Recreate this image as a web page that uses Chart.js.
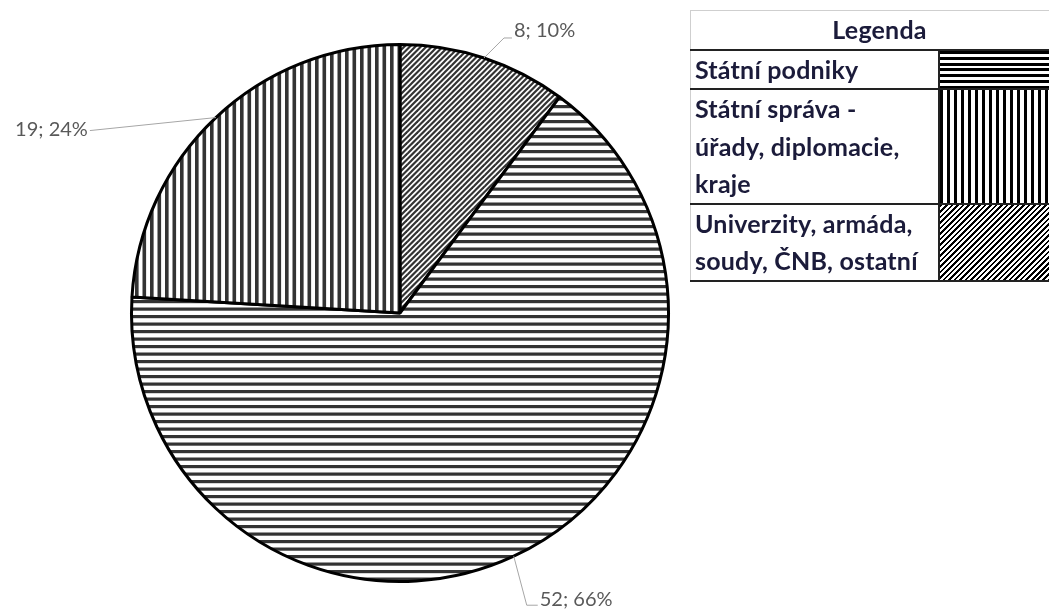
<!DOCTYPE html>
<html lang="cs">
<head>
    <meta charset="UTF-8">
    <title>Legenda - podíly</title>
    <script src="https://cdn.jsdelivr.net/npm/chart.js@4.4.1/dist/chart.umd.min.js"></script>
    <style>
        body { margin: 0; background: #fff; font-family: Lato, sans-serif; }
        #wrap { position: relative; width: 1049px; height: 613px; overflow: hidden; }
        #pie { position: absolute; left: 0; top: 0; }
        #legend {
            position: absolute; left: 690px; top: 10px; width: 374px;
            border-collapse: collapse; color: #1b1b3a;
            font-weight: bold; font-size: 25px; letter-spacing: 0.2px;
        }
        #legend th, #legend td { padding: 0 0 0 4px; line-height: 37.5px; text-align: left; white-space: nowrap; }
        #legend th { text-align: center; height: 37px; border-top: 1px solid #cfcfcf; border-left: 1px solid #cfcfcf;
            border-bottom: 2px solid #222; }
        #legend td.name { width: 243px; border-left: 1px solid #cfcfcf; border-bottom: 2px solid #222; }
        #legend td.swatch { border-left: 2px solid #222; border-bottom: 2px solid #222; padding: 0; }
    </style>
</head>
<body>
<div id="wrap">
    <canvas id="pie" width="1049" height="613"></canvas>
    <table id="legend"></table>
</div>
<script>
    // legend order
    const categories = [
        ['Státní podniky'],
        ['Státní správa -', 'úřady, diplomacie,', 'kraje'],
        ['Univerzity, armáda,', 'soudy, ČNB, ostatní']
    ];
    const values = [52, 19, 8];
    const percents = ['66%', '24%', '10%'];
    // order of slices in the pie, clockwise from 12 o'clock
    const pieOrder = [2, 0, 1];
    const hatches = ['horizontal', 'vertical', 'diagonal'];

    function makePattern(kind) {
        const c = document.createElement('canvas');
        const g = c.getContext('2d');
        if (kind === 'horizontal') {
            c.width = 15; c.height = 15;
            g.fillStyle = '#fff'; g.fillRect(0, 0, 15, 15);
            g.fillStyle = '#333';
            g.fillRect(0, 0, 15, 3.2);
            g.fillRect(0, 7.5, 15, 3.2);
        } else if (kind === 'vertical') {
            c.width = 15; c.height = 15;
            g.fillStyle = '#fff'; g.fillRect(0, 0, 15, 15);
            g.fillStyle = '#333';
            g.fillRect(0, 0, 3.6, 15);
            g.fillRect(7.5, 0, 3.6, 15);
        } else {
            c.width = 11; c.height = 11;
            g.fillStyle = '#fff'; g.fillRect(0, 0, 11, 11);
            g.strokeStyle = '#333';
            g.lineWidth = 2.2;
            for (let k = -1; k <= 5; k++) {
                const d = k * 5.5;
                g.beginPath();
                g.moveTo(d + 2, -2);
                g.lineTo(-2, d + 2);
                g.stroke();
            }
        }
        return g.createPattern(c, 'repeat');
    }

    const legendCss = {
        horizontal: 'repeating-linear-gradient(to bottom, #000 0 3px, #fff 3px 5.8px)',
        vertical: 'repeating-linear-gradient(to right, #000 0 3.5px, #fff 3.5px 7px)',
        diagonal: 'repeating-linear-gradient(135deg, #000 0 1.8px, #fff 1.8px 3.9px)'
    };

    // legend table
    const table = document.getElementById('legend');
    let html = '<tr><th colspan="2">Legenda</th></tr>';
    categories.forEach((lines, i) => {
        html += '<tr><td class="name">' + lines.join('<br>') + '</td>' +
            '<td class="swatch" style="background:' + legendCss[hatches[i]] + '"></td></tr>';
    });
    table.innerHTML = html;

    // slice label leader offsets: elbow dx, dy, tail length, text dy
    const labelOffsets = [
        { dx: 20, dy: -20, tail: 8, ty: -7 },
        { dx: 13, dy: 49, tail: 11, ty: -6 },
        { dx: -126, dy: 13, tail: 0, ty: -1 }
    ];

    const leaderPlugin = {
        id: 'leaders',
        afterDatasetsDraw(chart) {
            const g = chart.ctx;
            const arcs = chart.getDatasetMeta(0).data;
            g.save();
            g.font = '20px Lato, sans-serif';
            g.textBaseline = 'middle';
            arcs.forEach((arc, i) => {
                const src = pieOrder[i];
                const mid = (arc.startAngle + arc.endAngle) / 2;
                const ax = arc.x + Math.cos(mid) * arc.outerRadius;
                const ay = arc.y + Math.sin(mid) * arc.outerRadius;
                const o = labelOffsets[i];
                const ex = ax + o.dx, ey = ay + o.dy;
                const right = o.dx >= 0;
                const tx = ex + (right ? o.tail : -o.tail);
                g.strokeStyle = '#a6a6a6';
                g.lineWidth = 1;
                g.beginPath();
                g.moveTo(ax, ay);
                g.lineTo(ex, ey);
                g.lineTo(tx, ey);
                g.stroke();
                g.fillStyle = '#595959';
                g.textAlign = right ? 'left' : 'right';
                g.fillText(values[src] + '; ' + percents[src], tx + (right ? 2 : -2), ey + o.ty);
            });
            g.restore();
        }
    };

    new Chart(document.getElementById('pie'), {
        type: 'pie',
        data: {
            labels: pieOrder.map(i => categories[i].join(' ')),
            datasets: [{
                data: pieOrder.map(i => values[i]),
                backgroundColor: pieOrder.map(i => makePattern(hatches[i])),
                borderColor: '#000',
                borderWidth: 3
            }]
        },
        options: {
            responsive: false,
            animation: false,
            layout: { padding: { left: 130, right: 379, top: 43, bottom: 30 } },
            plugins: { legend: { display: false }, tooltip: { enabled: false } }
        },
        plugins: [leaderPlugin]
    });
</script>
</body>
</html>
